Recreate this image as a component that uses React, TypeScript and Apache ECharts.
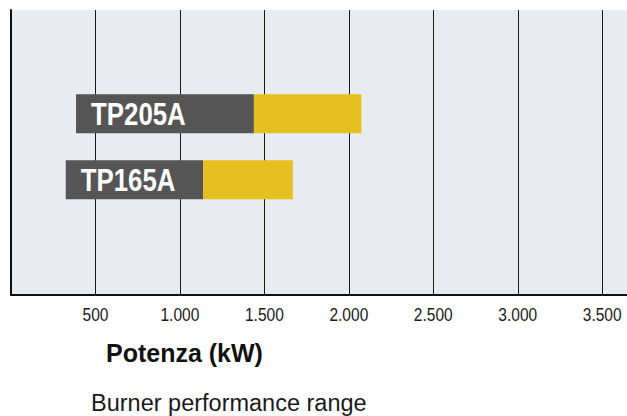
import React, { useEffect, useRef } from "react";
import * as echarts from "echarts";

const categories = ["TP165A", "TP205A"];
const minPower = [324, 385];
const splitPower = [1138, 1438];
const maxPower = [1669, 2074];
const tickValues = [500, 1000, 1500, 2000, 2500, 3000, 3500];
const tickLabels = ["500", "1.000", "1.500", "2.000", "2.500", "3.000", "3.500"];
const axisTitle = "Potenza (kW)";
const caption = "Burner performance range";

const SANS = "'Liberation Sans', Arial, sans-serif";

export default function App() {
  const ref = useRef<HTMLDivElement>(null);
  useEffect(() => {
    if (!ref.current) return;
    const chart = echarts.init(ref.current, undefined, { renderer: "svg" });
    const lower = minPower;
    const mid = splitPower.map((v, i) => v - minPower[i]);
    const upper = maxPower.map((v, i) => v - splitPower[i]);
    chart.setOption({
      animation: false,
      backgroundColor: "#ffffff",
      grid: [
        {
          left: 11, width: 625, top: 10, height: 285, show: true,
          backgroundColor: "#e8ebf0", borderWidth: 0, outerBoundsMode: "none", containLabel: false,
        },
        { left: 11, width: 625, top: 80.8, height: 132, show: false, outerBoundsMode: "none", containLabel: false },
      ],
      xAxis: [
        {
          type: "value",
          gridIndex: 0,
          min: 0,
          max: 3700,
          interval: 500,
          axisLine: { show: true, onZero: false, lineStyle: { color: "#111111", width: 2 } },
          axisTick: { show: false },
          splitLine: { show: true, lineStyle: { color: "#1a1a1a", width: 1 } },
          axisLabel: { show: false },
        },
        { type: "value", gridIndex: 1, min: 0, max: 3700, show: false },
      ],
      yAxis: [
        {
          type: "value",
          gridIndex: 0,
          min: 0,
          max: 1,
          axisLine: { show: true, onZero: false, lineStyle: { color: "#111111", width: 2 } },
          axisTick: { show: false },
          axisLabel: { show: false },
          splitLine: { show: false },
        },
        { type: "category", gridIndex: 1, data: categories, show: false },
      ],
      series: [
        {
          type: "bar",
          xAxisIndex: 1,
          yAxisIndex: 1,
          stack: "range",
          barWidth: 39,
          silent: true,
          itemStyle: { color: "rgba(0,0,0,0)" },
          data: lower,
        },
        {
          type: "bar",
          xAxisIndex: 1,
          yAxisIndex: 1,
          stack: "range",
          barWidth: 39,
          itemStyle: { color: "#555555" },
          data: mid,
        },
        {
          type: "bar",
          xAxisIndex: 1,
          yAxisIndex: 1,
          stack: "range",
          barWidth: 39,
          itemStyle: { color: "#e6c020" },
          data: upper,
        },
        {
          // model names, condensed, inside the dark segment
          type: "custom",
          xAxisIndex: 1,
          yAxisIndex: 1,
          silent: true,
          z: 5,
          data: categories.map((c, i) => [minPower[i], i]),
          renderItem: (params: any, api: any) => {
            const p = api.coord([api.value(0), api.value(1)]);
            return {
              type: "text",
              x: p[0] + 15,
              y: p[1],
              scaleX: 0.82,
              style: {
                text: categories[params.dataIndex],
                fill: "#ffffff",
                font: "bold 31.5px " + SANS,
                align: "left",
                verticalAlign: "middle",
              },
            };
          },
        },
        {
          // x-axis tick labels, condensed
          type: "custom",
          xAxisIndex: 0,
          yAxisIndex: 0,
          silent: true,
          z: 5,
          data: tickValues.map((v) => [v, 0]),
          renderItem: (params: any, api: any) => {
            const p = api.coord([api.value(0), api.value(1)]);
            return {
              type: "text",
              x: p[0],
              y: p[1] + 20,
              scaleX: 0.84,
              style: {
                text: tickLabels[params.dataIndex],
                fill: "#1a1a1a",
                font: "18.5px " + SANS,
                align: "center",
                verticalAlign: "middle",
              },
            };
          },
        },
      ],
      graphic: [
        {
          type: "text",
          left: 106,
          top: 340,
          style: {
            text: axisTitle,
            fontFamily: SANS,
            fontWeight: "bold",
            fontSize: 25,
            fill: "#111111",
          },
        },
        {
          type: "text",
          left: 91,
          top: 391,
          style: {
            text: caption,
            fontFamily: SANS,
            fontSize: 23.5,
            fill: "#1a1a1a",
          },
        },
      ],
    });
    return () => chart.dispose();
  }, []);
  return (
    <div
      ref={ref}
      style={{ position: "fixed", left: 0, top: 0, width: 627, height: 416 }}
    />
  );
}
